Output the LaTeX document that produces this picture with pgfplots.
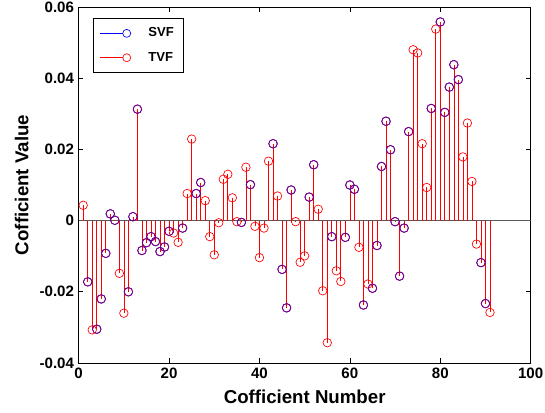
\documentclass[border=0pt]{standalone}
\usepackage{pgfplots}
\pgfplotsset{compat=1.18}
\usepackage{fontspec}
\setmainfont{Liberation Sans}

\begin{document}
\begin{tikzpicture}
\useasboundingbox (-59pt,-36.75pt) rectangle (349.75pt,272.25pt);
\begin{axis}[
  scale only axis, width=339pt, height=267pt,
  xmin=0, xmax=100, ymin=-0.04, ymax=0.06,
  scaled x ticks=false, scaled y ticks=false,
  xtick={0,20,40,60,80,100}, xticklabels={0,20,40,60,80,100},
  ytick={-0.04,-0.02,0,0.02,0.04,0.06},
  yticklabels={-0.04,-0.02,0,0.02,0.04,0.06},
  tick align=inside, major tick length=3.5pt,
  tick style={black, line width=0.5pt},
  axis line style={black, line width=0.6pt},
  tick label style={font=\bfseries\fontsize{11.3}{13}\selectfont},
  label style={font=\bfseries\fontsize{14}{16}\selectfont},
  xlabel={Cofficient Number}, ylabel={Cofficient Value},
  xlabel style={at={(axis description cs:0.5,-0.0955)}, anchor=center},
  ylabel style={at={(axis description cs:-0.1261,0.5)}, anchor=center},
  legend style={at={(0.031,0.969)}, anchor=north west, draw=black,
    line width=0.6pt,
    font=\bfseries\fontsize{9.8}{12}\selectfont,
    inner xsep=5pt, inner ysep=5pt, row sep=6pt,
    /tikz/every odd column/.append style={column sep=11pt}},
  legend cell align=left,
  legend image code/.code={%
    \draw[#1,mark=none,line width=0.5pt] (0pt,0pt) -- (17pt,0pt);
    \draw[#1,mark=none,line width=0.5pt,fill=none] (20pt,0pt) circle (3pt);},
]
\addplot[forget plot, black!65, line width=0.6pt] coordinates {(0,0) (100,0)};
\addplot[ycomb, blue, line width=0.5pt, mark=o, mark size=3.2pt] coordinates {
(2,-0.0172) (4,-0.0305) (5,-0.0220) (6,-0.0092) (7,0.0019) (8,0.0001)
(11,-0.0200) (12,0.0011) (13,0.0313) (14,-0.0084) (15,-0.0062) (16,-0.0045)
(17,-0.0059) (18,-0.0087) (19,-0.0074) (20,-0.0030) (23,-0.0021) (26,0.0076)
(27,0.0107) (36,-0.0005) (38,0.0101) (43,0.0216) (45,-0.0137) (46,-0.0245)
(47,0.0086) (51,0.0066) (52,0.0157) (56,-0.0045) (59,-0.0047) (60,0.0100)
(61,0.0088) (63,-0.0237) (65,-0.0190) (66,-0.0070) (67,0.0152) (68,0.0279)
(69,0.0199) (70,-0.0003) (71,-0.0156) (72,-0.0021) (73,0.0250) (78,0.0315)
(80,0.0558) (81,0.0304) (82,0.0375) (83,0.0438) (84,0.0396) (89,-0.0118)
(90,-0.0233)
};
\addlegendentry{SVF}
\addplot[ycomb, red, line width=0.5pt, mark=o, mark size=3.2pt] coordinates {
(1,0.0043) (2,-0.0172) (3,-0.0307) (4,-0.0305) (5,-0.0220) (6,-0.0092)
(7,0.0019) (8,0.0001) (9,-0.0148) (10,-0.0260) (11,-0.0200) (12,0.0011)
(13,0.0313) (14,-0.0084) (15,-0.0062) (16,-0.0045) (17,-0.0059) (18,-0.0087)
(19,-0.0074) (20,-0.0030) (21,-0.0035) (22,-0.0061) (23,-0.0021) (24,0.0076)
(25,0.0229) (26,0.0076) (27,0.0107) (28,0.0056) (29,-0.0045) (30,-0.0096)
(31,-0.0006) (32,0.0116) (33,0.0130) (34,0.0064) (35,-0.0003) (36,-0.0005)
(37,0.0150) (38,0.0101) (39,-0.0016) (40,-0.0104) (41,-0.0021) (42,0.0167)
(43,0.0216) (44,0.0069) (45,-0.0137) (46,-0.0245) (47,0.0086) (48,-0.0003)
(49,-0.0117) (50,-0.0099) (51,0.0066) (52,0.0157) (53,0.0032) (54,-0.0197)
(55,-0.0343) (56,-0.0045) (57,-0.0141) (58,-0.0171) (59,-0.0047) (60,0.0100)
(61,0.0088) (62,-0.0075) (63,-0.0237) (64,-0.0178) (65,-0.0190) (66,-0.0070)
(67,0.0152) (68,0.0279) (69,0.0199) (70,-0.0003) (71,-0.0156) (72,-0.0021)
(73,0.0250) (74,0.0480) (75,0.0471) (76,0.0216) (77,0.0093) (78,0.0315)
(79,0.0538) (80,0.0558) (81,0.0304) (82,0.0375) (83,0.0438) (84,0.0396)
(85,0.0179) (86,0.0274) (87,0.0110) (88,-0.0066) (89,-0.0118) (90,-0.0233)
(91,-0.0258)
};
\addlegendentry{TVF}
\addplot[forget plot, only marks, blue, opacity=0.55, line width=0.5pt, mark=o, mark size=3.2pt] coordinates {
(2,-0.0172) (4,-0.0305) (5,-0.0220) (6,-0.0092) (7,0.0019) (8,0.0001)
(11,-0.0200) (12,0.0011) (13,0.0313) (14,-0.0084) (15,-0.0062) (16,-0.0045)
(17,-0.0059) (18,-0.0087) (19,-0.0074) (20,-0.0030) (23,-0.0021) (26,0.0076)
(27,0.0107) (36,-0.0005) (38,0.0101) (43,0.0216) (45,-0.0137) (46,-0.0245)
(47,0.0086) (51,0.0066) (52,0.0157) (56,-0.0045) (59,-0.0047) (60,0.0100)
(61,0.0088) (63,-0.0237) (65,-0.0190) (66,-0.0070) (67,0.0152) (68,0.0279)
(69,0.0199) (70,-0.0003) (71,-0.0156) (72,-0.0021) (73,0.0250) (78,0.0315)
(80,0.0558) (81,0.0304) (82,0.0375) (83,0.0438) (84,0.0396) (89,-0.0118)
(90,-0.0233)
};
\end{axis}
\end{tikzpicture}
\end{document}
